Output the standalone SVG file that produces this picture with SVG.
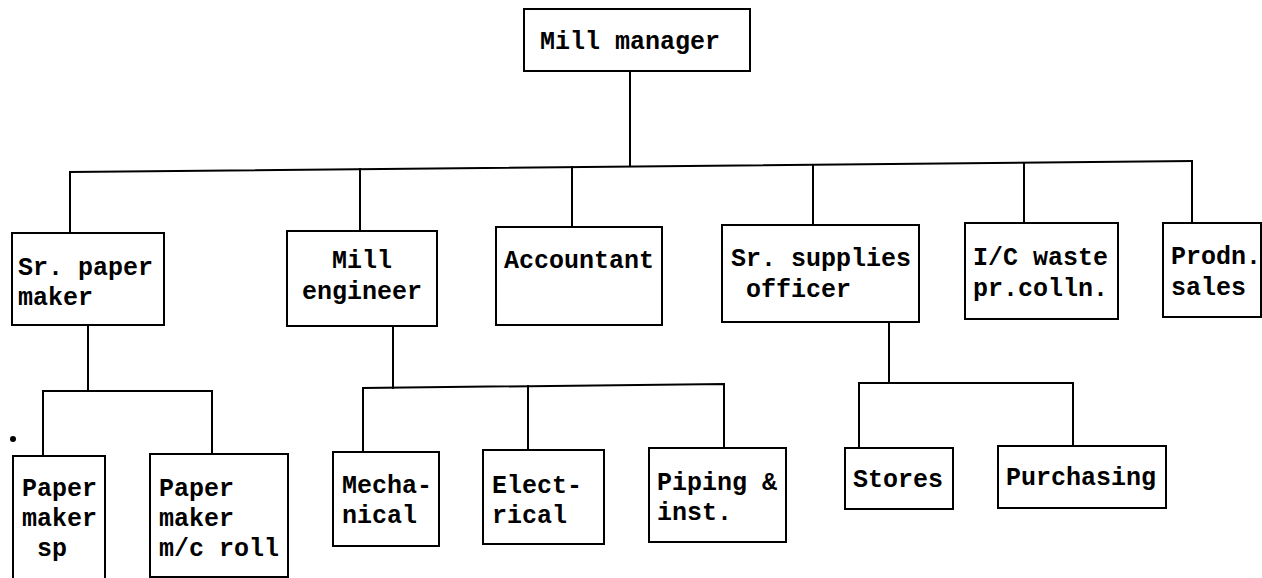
<svg xmlns="http://www.w3.org/2000/svg" width="1262" height="578" viewBox="0 0 1262 578">
<style>
  .box { fill: #fff; stroke: #000; stroke-width: 2; }
  .ln { fill: none; stroke: #000; stroke-width: 2; stroke-linecap: square; }
  .t { font-family: "Liberation Mono", "Courier New", monospace; font-weight: bold; font-size: 25px; fill: #000; }
</style>
<rect x="0" y="0" width="1262" height="578" fill="#fff"/>
<g id="connectors">
  <line class="ln" x1="630" y1="71" x2="630" y2="166"/>
  <line class="ln" x1="70" y1="172" x2="1192" y2="161"/>
  <line class="ln" x1="70" y1="172" x2="70" y2="233"/>
  <line class="ln" x1="360" y1="169" x2="360" y2="231"/>
  <line class="ln" x1="572" y1="167" x2="572" y2="227"/>
  <line class="ln" x1="813" y1="165" x2="813" y2="225"/>
  <line class="ln" x1="1024" y1="163" x2="1024" y2="223"/>
  <line class="ln" x1="1192" y1="161" x2="1192" y2="223"/>
  <polyline class="ln" points="88,325 88,391"/>
  <polyline class="ln" points="43,456 43,391 212,391 212,454"/>
  <polyline class="ln" points="393,326 393,388"/>
  <polyline class="ln" points="363,452 363,388 724,384 724,448"/>
  <line class="ln" x1="528" y1="386" x2="528" y2="450"/>
  <polyline class="ln" points="889,322 889,383"/>
  <polyline class="ln" points="859,448 859,383 1073,383 1073,446"/>
</g>
<g id="mill-manager">
  <rect class="box" x="524" y="9" width="226" height="62"/>
  <text class="t" x="540" y="49">Mill manager</text>
</g>
<g id="sr-paper-maker">
  <rect class="box" x="12" y="233" width="152" height="92"/>
  <text class="t" x="18" y="275">Sr. paper</text>
  <text class="t" x="18" y="305">maker</text>
</g>
<g id="mill-engineer">
  <rect class="box" x="287" y="231" width="150" height="95"/>
  <text class="t" x="362" y="268" text-anchor="middle">Mill</text>
  <text class="t" x="362" y="299" text-anchor="middle">engineer</text>
</g>
<g id="accountant">
  <rect class="box" x="496" y="227" width="166" height="98"/>
  <text class="t" x="504" y="268">Accountant</text>
</g>
<g id="sr-supplies-officer">
  <rect class="box" x="722" y="225" width="197" height="97"/>
  <text class="t" x="731" y="266">Sr. supplies</text>
  <text class="t" x="746" y="297">officer</text>
</g>
<g id="ic-waste">
  <rect class="box" x="965" y="223" width="153" height="96"/>
  <text class="t" x="973" y="265">I/C waste</text>
  <text class="t" x="973" y="296">pr.colln.</text>
</g>
<g id="prodn-sales">
  <rect class="box" x="1163" y="223" width="98" height="94"/>
  <text class="t" x="1171" y="264">Prodn.</text>
  <text class="t" x="1171" y="295">sales</text>
</g>
<g id="paper-maker-sp">
  <rect class="box" x="13" y="456" width="92" height="130"/>
  <text class="t" x="22" y="496">Paper</text>
  <text class="t" x="22" y="526">maker</text>
  <text class="t" x="37" y="556">sp</text>
</g>
<g id="paper-maker-mc-roll">
  <rect class="box" x="150" y="454" width="138" height="123"/>
  <text class="t" x="159" y="496">Paper</text>
  <text class="t" x="159" y="526">maker</text>
  <text class="t" x="159" y="556">m/c roll</text>
</g>
<g id="mechanical">
  <rect class="box" x="333" y="452" width="106" height="94"/>
  <text class="t" x="342" y="493">Mecha-</text>
  <text class="t" x="342" y="523">nical</text>
</g>
<g id="electrical">
  <rect class="box" x="483" y="450" width="121" height="94"/>
  <text class="t" x="492" y="493">Elect-</text>
  <text class="t" x="492" y="523">rical</text>
</g>
<g id="piping">
  <rect class="box" x="649" y="448" width="137" height="94"/>
  <text class="t" x="657" y="490">Piping &amp;</text>
  <text class="t" x="657" y="520">inst.</text>
</g>
<g id="stores">
  <rect class="box" x="845" y="448" width="108" height="61"/>
  <text class="t" x="853" y="487">Stores</text>
</g>
<g id="purchasing">
  <rect class="box" x="998" y="446" width="168" height="62"/>
  <text class="t" x="1006" y="485">Purchasing</text>
</g>
<circle cx="13" cy="439" r="3" fill="#000"/>
</svg>
